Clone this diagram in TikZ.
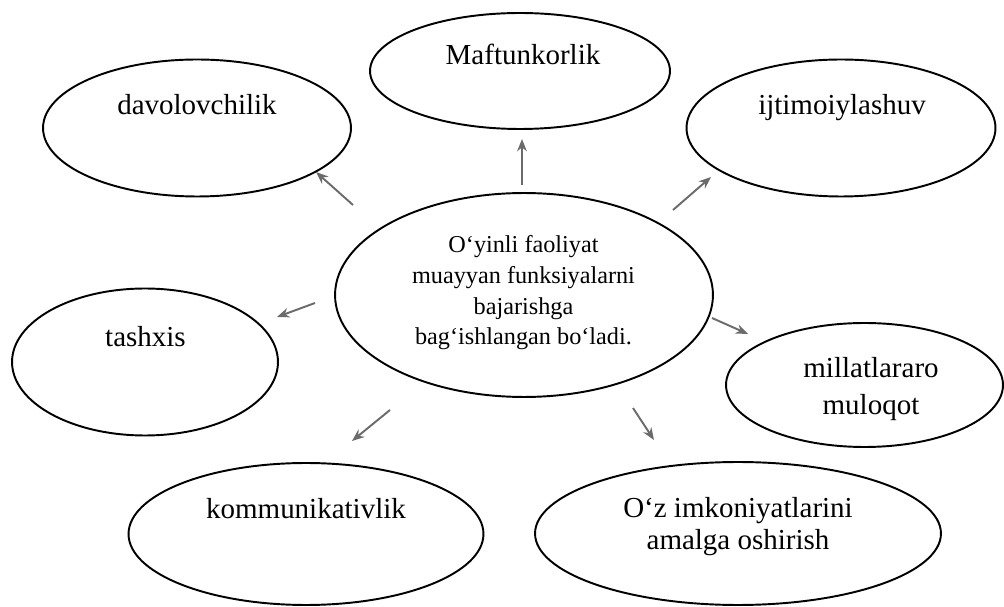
\documentclass[tikz,border=0pt]{standalone}
\usepackage{fontspec}
\setmainfont{Liberation Serif}
\usetikzlibrary{shapes.geometric,arrows.meta}
\tikzset{
  oval/.style={draw=black, line width=1.1pt, ellipse, inner sep=0pt},
  lbl/.style={font=\fontsize{16.5}{21.5}\selectfont, align=center, anchor=base, inner sep=0pt},
  arr/.style={draw=black!58, line width=1.1pt, -{Stealth[length=7pt,width=5.5pt]}}
}
\begin{document}
\begin{tikzpicture}[x=0.02cm,y=-0.02cm]
\useasboundingbox (0,0) rectangle (1004,607);
% ellipses
\node[oval, minimum width=6.00cm, minimum height=2.32cm] (maf) at (520,71) {};
\node[oval, minimum width=6.16cm, minimum height=2.74cm] (dav) at (197,128) {};
\node[oval, minimum width=6.18cm, minimum height=2.74cm] (ijt) at (841,128) {};
\node[oval, minimum width=7.56cm, minimum height=4.08cm] (cen) at (524,295) {};
\node[oval, minimum width=5.32cm, minimum height=2.94cm] (tas) at (145,362) {};
\node[oval, minimum width=5.54cm, minimum height=2.48cm] (mil) at (864.5,385) {};
\node[oval, minimum width=7.10cm, minimum height=2.84cm] (kom) at (306,534) {};
\node[oval, minimum width=8.12cm, minimum height=2.86cm] (oz) at (738,533.5) {};
% labels (base anchor = baseline of the last line)
\node[lbl] (tmaf) at (523,65) {Maftunkorlik};
\node[lbl] (tdav) at (197,115) {davolovchilik};
\node[lbl] (tijt) at (842,115) {ijtimoiylashuv};
\node[lbl] (ttas) at (145.5,347) {tashxis};
\node[lbl, font=\fontsize{16.5}{21.5}\selectfont] (tmil) at (871,415) {millatlararo\\muloqot};
\node[lbl] (tkom) at (306,519) {kommunikativlik};
\node[lbl, font=\fontsize{16.5}{18.7}\selectfont] (toz) at (738,550) {O‘z imkoniyatlarini\\amalga oshirish};
\node[lbl, font=\fontsize{13.8}{17.6}\selectfont] (tcen) at (523.5,345) {O‘yinli faoliyat\\muayyan funksiyalarni\\bajarishga\\bag‘ishlangan bo‘ladi.};
% arrow end points
\coordinate (t1) at (353,205); \coordinate (h1) at (316,172);
\coordinate (t2) at (522,185); \coordinate (h2) at (522,139);
\coordinate (t3) at (673,210); \coordinate (h3) at (711,177);
\coordinate (t4) at (315,303); \coordinate (h4) at (277,317);
\coordinate (t5) at (712,318); \coordinate (h5) at (748,334);
\coordinate (t6) at (390,410); \coordinate (h6) at (352,441);
\coordinate (t7) at (633,408); \coordinate (h7) at (654,440);
\draw[arr] (t1) -- (h1);
\draw[arr] (t2) -- (h2);
\draw[arr] (t3) -- (h3);
\draw[arr] (t4) -- (h4);
\draw[arr] (t5) -- (h5);
\draw[arr] (t6) -- (h6);
\draw[arr] (t7) -- (h7);
\end{tikzpicture}
\end{document}
